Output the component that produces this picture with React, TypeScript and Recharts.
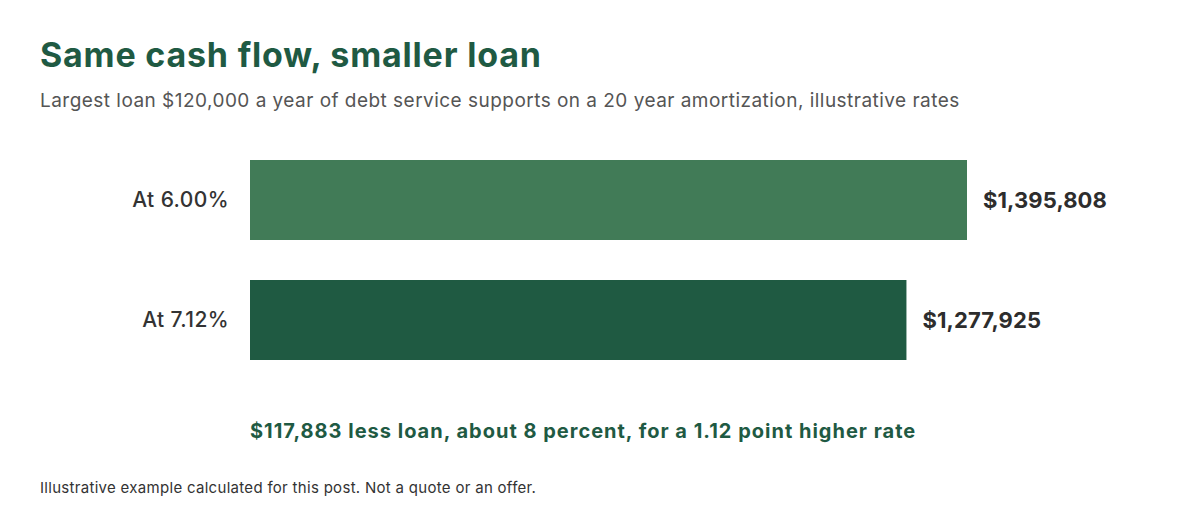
import { Bar, BarChart, LabelList, XAxis, YAxis, Cell } from "recharts";

const rates = ["At 6.00%", "At 7.12%"];
const loanAmounts = [1395808, 1277925];
const barColors = ["#417b57", "#1f5a42"];

const data = rates.map((name, i) => ({ name, loan: loanAmounts[i] }));

const FONT = "Inter, 'Noto Sans', sans-serif";
const GREEN = "#1f5a43";

const money = (v: number) => `$${Number(v).toLocaleString("en-US")}`;

export default function App() {
    return (
        <div style={{ position: "absolute", left: 0, top: 0, width: 1200, height: 520, background: "#fff", fontFamily: FONT }}>
            <BarChart
                width={1200}
                height={520}
                data={data}
                layout="vertical"
                margin={{ top: 140, right: 233, bottom: 140, left: 0 }}
                barSize={80}
            >
                <XAxis type="number" hide domain={[0, "dataMax"]} />
                <YAxis
                    type="category"
                    dataKey="name"
                    width={250}
                    tickLine={false}
                    axisLine={false}
                    tickSize={0}
                    tickMargin={21}
                    tick={{ fill: "#333333", fontSize: 21, fontWeight: 500, fontFamily: FONT, letterSpacing: 0.4 }}
                />
                <Bar dataKey="loan" isAnimationActive={false}>
                    {data.map((d, i) => (
                        <Cell key={d.name} fill={barColors[i]} />
                    ))}
                    <LabelList
                        dataKey="loan"
                        position="right"
                        offset={16}
                        formatter={(v: any) => money(v)}
                        style={{ fill: "#2d2d2d", fontSize: 22, fontWeight: 700, fontFamily: FONT, letterSpacing: 0.1 }}
                    />
                </Bar>
            </BarChart>
            <svg width={1200} height={520} style={{ position: "absolute", left: 0, top: 0, pointerEvents: "none" }}>
                <text x={40} y={67} fill={GREEN} fontSize={34} fontWeight={700} fontFamily={FONT} letterSpacing={0.8}>
                    Same cash flow, smaller loan
                </text>
                <text x={40} y={107} fill="#555555" fontSize={19} fontFamily={FONT} letterSpacing={0.47}>
                    Largest loan $120,000 a year of debt service supports on a 20 year amortization, illustrative rates
                </text>
                <text x={250} y={438} fill={GREEN} fontSize={20} fontWeight={700} fontFamily={FONT} letterSpacing={1}>
                    $117,883 less loan, about 8 percent, for a 1.12 point higher rate
                </text>
                <text x={40} y={493} fill="#333333" fontSize={15} fontFamily={FONT} letterSpacing={0.3}>
                    Illustrative example calculated for this post. Not a quote or an offer.
                </text>
            </svg>
        </div>
    );
}
